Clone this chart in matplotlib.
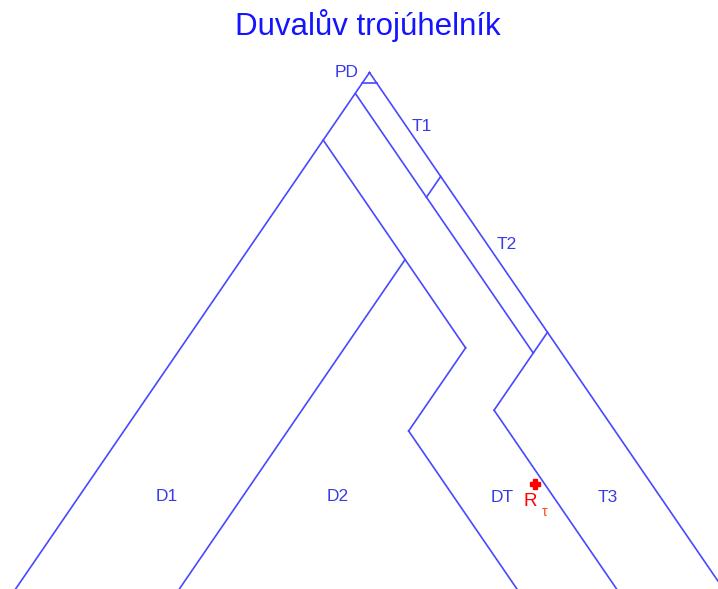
import numpy as np
import matplotlib
matplotlib.use("Agg")
import matplotlib.pyplot as plt

plt.rcParams['font.family'] = ['Liberation Sans', 'DejaVu Sans']

# Zone boundaries, each segment as (C2H4 %, C2H2 %) start -> end
outline = [(0, 0), (100, 0), (0, 100), (0, 0)]
boundaries = [
    [(0, 2), (2, 0)],        # PD  (CH4 = 98 %)
    [(0, 4), (50, 4)],       # C2H2 = 4 %
    [(20, 0), (20, 4)],      # T1 / T2
    [(50, 0), (50, 15)],     # T2 / T3
    [(50, 15), (85, 15)],    # T3 / DT
    [(0, 13), (40, 13)],     # D1, D2 top
    [(23, 13), (23, 77)],    # D1 / D2
    [(40, 13), (40, 29)],    # D2 / DT
    [(40, 29), (71, 29)],    # D2 / DT
]

# Zone labels: name, C2H4 %, C2H2 %
zone_names = ["PD", "T1", "T2", "D1", "D2", "DT", "T3"]
zone_c2h4 = [-3.3, 12.4, 35.7, 12.2, 36.2, 59.3, 74.2]
zone_c2h2 = [3.0, -2.3, -2.9, 69.1, 45.1, 22.1, 7.2]

# Measured sample
sample_c2h4 = [62.8]
sample_c2h2 = [16.4]


def tern(c2h4, c2h2):
    c2h4 = np.asarray(c2h4, dtype=float) / 100
    c2h2 = np.asarray(c2h2, dtype=float) / 100
    ch4 = 1 - c2h4 - c2h2
    return c2h4 + ch4 / 2, ch4 * np.sqrt(3) / 2


line_col = "#4848ff"
text_col = "#3a3ae8"

fig = plt.figure(figsize=(7.18, 5.89), dpi=100)
ax = fig.add_axes([0, 0, 1, 1])
ax.set_xlim(-0.019, 0.9895)
ax.set_ylim(0.005, 0.987)
ax.axis("off")

ox, oy = tern(*zip(*outline))
ax.plot(ox, oy, color=line_col, lw=1.2)
for seg in boundaries:
    sx, sy = tern(*zip(*seg))
    ax.plot(sx, sy, color=line_col, lw=1.2)

lx, ly = tern(zone_c2h4, zone_c2h2)
for name, x, y in zip(zone_names, lx, ly):
    ax.text(x, y - 0.003, name, color=text_col, fontsize=12.5,
            ha="center", va="center")

px, py = tern(sample_c2h4, sample_c2h2)
ax.plot(px, py, marker="P", color="red", markersize=7, ls="none")
ax.annotate("R", (px[0], py[0]), xytext=(-3, -12.5), textcoords="offset points",
            color="red", fontsize=13.5, ha="center", va="center")
ax.annotate("τ", (px[0], py[0]), xytext=(7, -20), textcoords="offset points",
            color="#ff4a10", fontsize=10, ha="center", va="center")

fig.text(368 / 718, 1 - 35 / 589, "Duvalův trojúhelník", color="#1414ff",
         fontsize=22.5, ha="center", va="baseline")

fig.savefig("out.png", dpi=100)
